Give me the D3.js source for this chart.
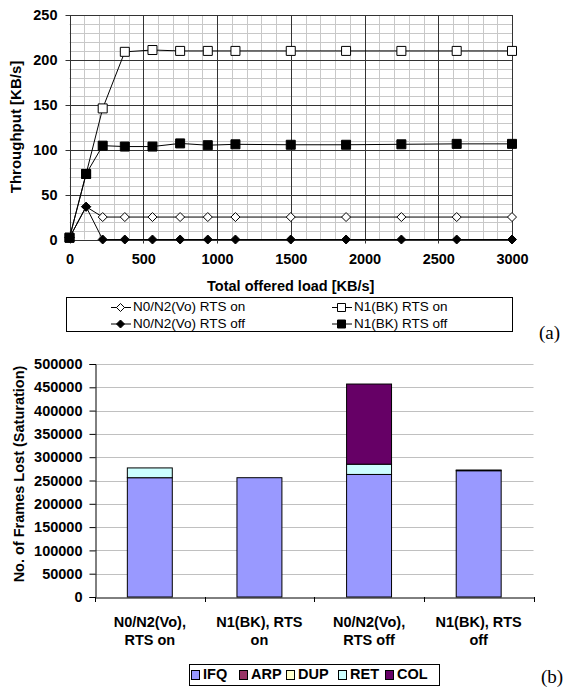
<!DOCTYPE html>
<html>
<head>
  <meta charset="utf-8">
  <title>Throughput and frames lost</title>
  <script src="https://d3js.org/d3.v7.min.js"></script>
  <style>
    body { margin: 0; background: #fff; }
    text { font-family: "Liberation Sans", Arial, sans-serif; }
  </style>
</head>
<body>
  <script>

    // (a) throughput vs offered load
    var loads = [0, 112.5, 225, 375, 562.5, 750, 937.5, 1125, 1500, 1875, 2250, 2625, 3000];
    var voOn  = [2, 36.5, 25, 25, 25, 25, 25, 25, 25, 25, 25, 25, 25];
    var voOff = [2, 36.5, 0, 0, 0, 0, 0, 0, 0, 0, 0, 0, 0];
    var bkOn  = [2, 73, 146, 209, 211, 210, 210, 210, 210, 210, 210, 210, 210];
    var bkOff = [2, 73, 104.5, 103.5, 103.5, 107, 105, 106, 105.5, 105.5, 106, 106.5, 106.5];
    var lineNames = ['N0/N2(Vo) RTS on', 'N1(BK) RTS on', 'N0/N2(Vo) RTS off', 'N1(BK) RTS off'];
    var xTicks = [0, 500, 1000, 1500, 2000, 2500, 3000];
    var yTicks = [0, 50, 100, 150, 200, 250];

    // (b) frames lost, stacked
    var categories = ['N0/N2(Vo), RTS on', 'N1(BK), RTS on', 'N0/N2(Vo), RTS off', 'N1(BK), RTS off'];
    var catLabels = [['N0/N2(Vo),', 'RTS on'], ['N1(BK), RTS', 'on'], ['N0/N2(Vo),', 'RTS off'], ['N1(BK), RTS', 'off']];
    var causes = ['IFQ', 'ARP', 'DUP', 'RET', 'COL'];
    var ifq = [256000, 256000, 263000, 271000];
    var arp = [0, 0, 0, 1500];
    var dup = [0, 0, 0, 0];
    var ret = [21000, 0, 22000, 0];
    var col = [0, 0, 172000, 0];
    var lostTicks = [0, 50000, 100000, 150000, 200000, 250000, 300000, 350000, 400000, 450000, 500000];

    var svg = d3.select('body').append('svg')
      .attr('width', 569)
      .attr('height', 688);

    // ---------- chart (a) ----------
    var x = d3.scaleLinear().domain([0, 3000]).range([69.5, 512]);
    var y = d3.scaleLinear().domain([0, 250]).range([239.5, 15]);

    var gTop = svg.append('g');

    // minor grid
    gTop.selectAll('line.vmin').data(d3.range(100, 3000, 100))
      .enter().append('line')
      .attr('x1', d => Math.round(x(d)) + 0.5).attr('x2', d => Math.round(x(d)) + 0.5)
      .attr('y1', y(0)).attr('y2', y(250))
      .attr('stroke', '#c8c8c8').attr('stroke-width', 1);
    gTop.selectAll('line.hmin').data(d3.range(10, 250, 10))
      .enter().append('line')
      .attr('y1', d => Math.round(y(d)) + 0.5).attr('y2', d => Math.round(y(d)) + 0.5)
      .attr('x1', x(0)).attr('x2', x(3000))
      .attr('stroke', '#c8c8c8').attr('stroke-width', 1);

    // major grid
    gTop.selectAll('line.vmaj').data(xTicks)
      .enter().append('line')
      .attr('x1', d => Math.round(x(d)) + 0.5).attr('x2', d => Math.round(x(d)) + 0.5)
      .attr('y1', y(0) + 4).attr('y2', y(250))
      .attr('stroke', '#333').attr('stroke-width', 1);
    gTop.selectAll('line.hmaj').data(yTicks)
      .enter().append('line')
      .attr('y1', d => Math.round(y(d)) + 0.5).attr('y2', d => Math.round(y(d)) + 0.5)
      .attr('x1', x(0) - 4).attr('x2', x(3000))
      .attr('stroke', '#333').attr('stroke-width', 1);

    // tick labels via d3 axes
    gTop.append('g')
      .attr('transform', 'translate(0,' + (y(0) + 4) + ')')
      .call(d3.axisBottom(x).tickValues(xTicks).tickSize(0).tickPadding(10).tickFormat(d3.format('d')))
      .call(g => g.select('.domain').remove())
      .selectAll('text')
      .attr('font-size', 14.5).attr('font-weight', 'bold').attr('fill', '#000');

    gTop.append('g')
      .attr('transform', 'translate(' + (x(0) - 4) + ',0)')
      .call(d3.axisLeft(y).tickValues(yTicks).tickSize(0).tickPadding(8))
      .call(g => g.select('.domain').remove())
      .selectAll('text')
      .attr('font-size', 14.5).attr('font-weight', 'bold').attr('fill', '#000');

    gTop.append('text')
      .attr('transform', 'translate(17,' + 127 + ') rotate(-90)')
      .attr('text-anchor', 'middle').attr('dominant-baseline', 'middle')
      .attr('font-size', 15).attr('font-weight', 'bold')
      .text('Throughput [KB/s]');

    gTop.append('text')
      .attr('x', (x(0) + x(3000)) / 2).attr('y', 287)
      .attr('text-anchor', 'middle').attr('dominant-baseline', 'middle')
      .attr('font-size', 14.5).attr('font-weight', 'bold')
      .text('Total offered load [KB/s]');

    var seriesList = [
      { name: lineNames[0], values: voOn, marker: 'diamond', fill: '#fff' },
      { name: lineNames[1], values: bkOn, marker: 'square', fill: '#fff' },
      { name: lineNames[2], values: voOff, marker: 'diamond', fill: '#000' },
      { name: lineNames[3], values: bkOff, marker: 'square', fill: '#000' }
    ];

    var line = d3.line()
      .x((d, i) => x(loads[i]))
      .y(d => y(d));

    var markerPath = function(kind, cx, cy, s) {
      if (kind === 'square') {
        return 'M' + (cx - s) + ',' + (cy - s) + 'h' + (2 * s) + 'v' + (2 * s) + 'h' + (-2 * s) + 'Z';
      }
      return 'M' + cx + ',' + (cy - s) + 'L' + (cx + s) + ',' + cy + 'L' + cx + ',' + (cy + s) + 'L' + (cx - s) + ',' + cy + 'Z';
    };

    seriesList.forEach(function(s) {
      gTop.append('path')
        .attr('d', line(s.values))
        .attr('fill', 'none').attr('stroke', '#000').attr('stroke-width', 1);
    });
    seriesList.forEach(function(s) {
      gTop.selectAll(null).data(s.values)
        .enter().append('path')
        .attr('d', (d, i) => markerPath(s.marker, x(loads[i]), y(d), 4.5))
        .attr('fill', s.fill).attr('stroke', '#000').attr('stroke-width', 1);
    });

    // legend (a)
    var legA = svg.append('g');
    legA.append('rect')
      .attr('x', 66.5).attr('y', 297.5).attr('width', 446).attr('height', 34)
      .attr('fill', '#fff').attr('stroke', '#000');
    var legPos = [[111, 307.5], [332, 307.5], [111, 324], [332, 324]];
    seriesList.forEach(function(s, j) {
      var p = legPos[j];
      legA.append('line')
        .attr('x1', p[0]).attr('x2', p[0] + 20).attr('y1', p[1]).attr('y2', p[1])
        .attr('stroke', '#000');
      legA.append('path')
        .attr('d', markerPath(s.marker, p[0] + 9.5, p[1], 4))
        .attr('fill', s.fill).attr('stroke', '#000');
      legA.append('text')
        .attr('x', p[0] + 22).attr('y', p[1])
        .attr('dominant-baseline', 'middle')
        .attr('font-size', 13.5)
        .text(s.name);
    });

    svg.append('text')
      .attr('x', 539).attr('y', 339)
      .style('font-family', '"Liberation Serif", "Times New Roman", serif')
      .attr('font-size', 19)
      .text('(a)');

    // ---------- chart (b) ----------
    var colors = { IFQ: '#9999ff', ARP: '#993366', DUP: '#ffffcc', RET: '#ccffff', COL: '#660066' };
    var table = categories.map(function(c, i) {
      return { cat: c, IFQ: ifq[i], ARP: arp[i], DUP: dup[i], RET: ret[i], COL: col[i] };
    });
    var stacked = d3.stack().keys(causes)(table);

    var xb = d3.scaleBand().domain(categories).range([95, 533.5]).paddingInner(0.59).paddingOuter(0.295);
    var yb = d3.scaleLinear().domain([0, 500000]).range([597, 364]);

    var bot = svg.append('g');

    bot.selectAll('line.grid').data(lostTicks.slice(1))
      .enter().append('line')
      .attr('x1', 95).attr('x2', 533.5)
      .attr('y1', d => Math.round(yb(d)) + 0.5).attr('y2', d => Math.round(yb(d)) + 0.5)
      .attr('stroke', '#c0c0c0').attr('stroke-width', 1.2);

    bot.append('g')
      .attr('transform', 'translate(95.5,0)')
      .call(d3.axisLeft(yb).tickValues(lostTicks).tickSize(6).tickPadding(7).tickFormat(d3.format('d')))
      .call(g => g.selectAll('line, path').attr('stroke', '#000'))
      .selectAll('text')
      .attr('font-size', 14.5).attr('font-weight', 'bold').attr('fill', '#000');

    stacked.forEach(function(layer) {
      bot.selectAll(null).data(layer.filter(d => d[1] > d[0]))
        .enter().append('rect')
        .attr('x', d => xb(d.data.cat))
        .attr('width', xb.bandwidth())
        .attr('y', d => yb(d[1]))
        .attr('height', d => yb(d[0]) - yb(d[1]))
        .attr('fill', colors[layer.key])
        .attr('stroke', '#000').attr('stroke-width', 1);
    });

    // category axis
    var xAxisB = bot.append('g')
      .attr('transform', 'translate(0,597.5)')
      .call(d3.axisBottom(xb).tickSize(0).tickFormat(''));
    xAxisB.select('.domain').attr('stroke', '#000');
    var step = xb.step();
    bot.selectAll('line.ctick').data(d3.range(categories.length + 1))
      .enter().append('line')
      .attr('x1', i => Math.round(95 + i * step) + 0.5).attr('x2', i => Math.round(95 + i * step) + 0.5)
      .attr('y1', 597).attr('y2', 602)
      .attr('stroke', '#000');

    bot.selectAll('text.cat').data(categories)
      .enter().append('text')
      .attr('x', d => xb(d) + xb.bandwidth() / 2)
      .attr('y', 623)
      .attr('text-anchor', 'middle')
      .attr('dominant-baseline', 'middle')
      .attr('font-size', 14.5).attr('font-weight', 'bold')
      .each(function(d, i) {
        var t = d3.select(this);
        catLabels[i].forEach(function(s, k) {
          t.append('tspan').attr('x', xb(d) + xb.bandwidth() / 2).attr('dy', k === 0 ? 0 : 18).text(s);
        });
      });

    bot.append('text')
      .attr('transform', 'translate(20,' + 474 + ') rotate(-90)')
      .attr('text-anchor', 'middle').attr('dominant-baseline', 'middle')
      .attr('font-size', 14.5).attr('font-weight', 'bold')
      .text('No. of Frames Lost (Saturation)');

    // legend (b)
    var legB = svg.append('g');
    legB.append('rect')
      .attr('x', 189.5).attr('y', 664.5).attr('width', 250).attr('height', 21)
      .attr('fill', '#fff').attr('stroke', '#000');
    var legBx = [191, 239, 286, 338, 385];
    causes.forEach(function(k, i) {
      legB.append('rect')
        .attr('x', legBx[i] + 0.5).attr('y', 670.5).attr('width', 8).attr('height', 9)
        .attr('fill', colors[k]).attr('stroke', '#000');
      legB.append('text')
        .attr('x', legBx[i] + 12).attr('y', 675.5)
        .attr('dominant-baseline', 'middle')
        .attr('font-size', 14.5).attr('font-weight', 'bold')
        .text(k);
    });

    svg.append('text')
      .attr('x', 541).attr('y', 683)
      .style('font-family', '"Liberation Serif", "Times New Roman", serif')
      .attr('font-size', 19)
      .text('(b)');

  </script>
</body>
</html>
